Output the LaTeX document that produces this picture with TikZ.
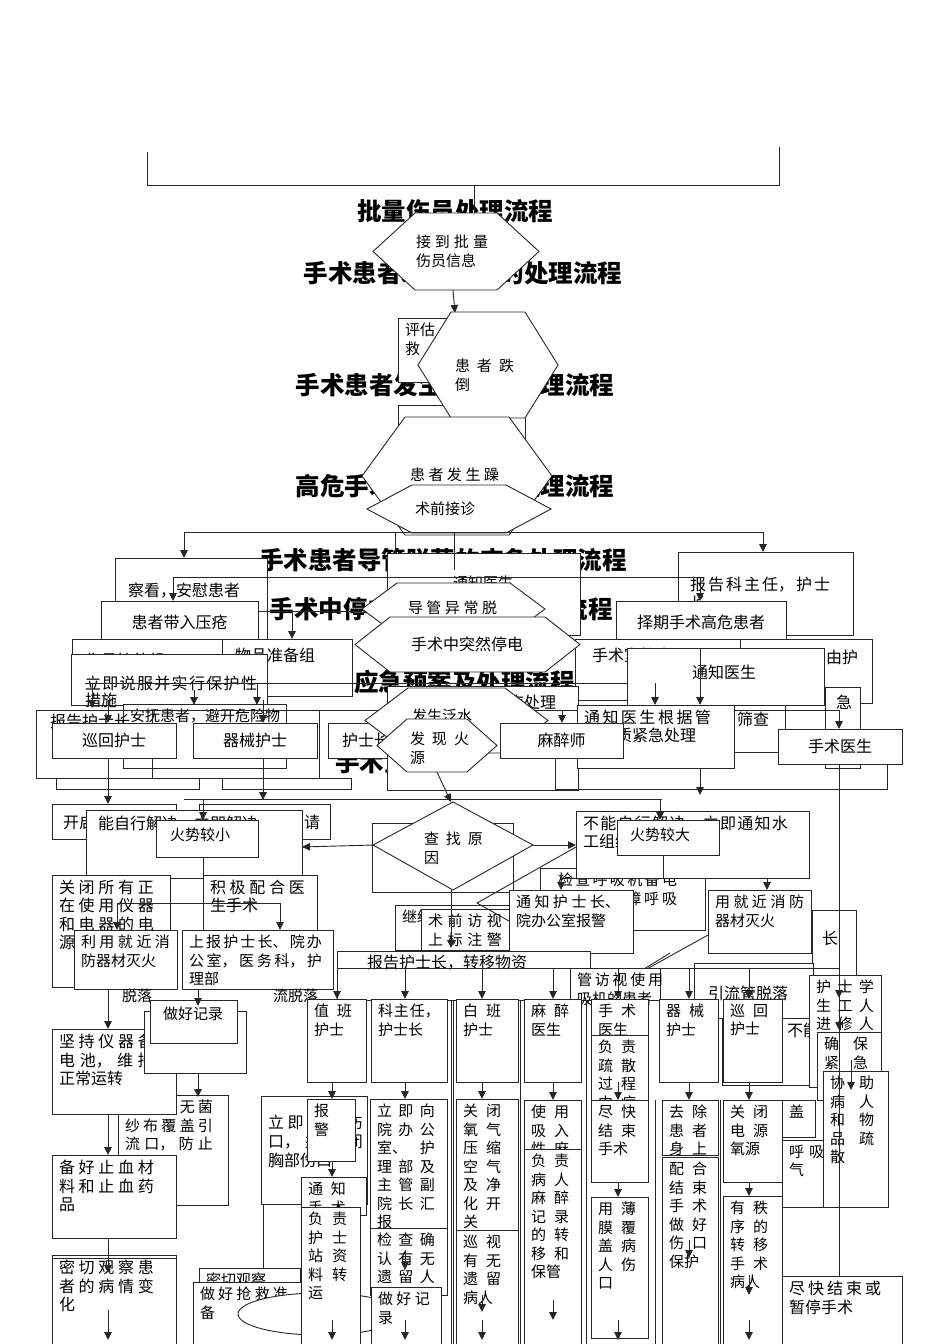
\documentclass[tikz,border=0pt]{standalone}
\usepackage{fontspec}
\setmainfont{Noto Sans CJK SC}
\usetikzlibrary{arrows.meta}
\XeTeXlinebreaklocale "zh"
\XeTeXlinebreakskip=0pt plus 40pt
\tikzset{
 bx/.style={draw=black!85, fill=white, line width=0.9pt, inner sep=0pt, outer sep=0pt},
 tx/.style={inner sep=0pt, outer sep=0pt, font=\fontsize{15}{18.5}\selectfont, align=justify, execute at begin node={\tolerance=10000\hbadness=10000\relax}},
 tw5/.style={font=\fontsize{16}{18.5}\selectfont, text width=95pt},
 lb/.style={inner sep=0pt, font=\fontsize{16}{19}\selectfont},
 ttl/.style={inner sep=0pt, font=\fontsize{24.5}{28}\selectfont\bfseries},
 ln/.style={line width=0.9pt, draw=black!85},
 ar/.style={ln, -{Triangle[width=7.5pt,length=8pt]}},
}
\newcommand\bx[7][]{%
 \pgfmathsetmacro\bxw{#5-#3}\pgfmathsetmacro\bxh{#6-#4}\pgfmathsetmacro\bxt{#5-#3-14}%
 \node[bx, minimum width=\bxw pt, minimum height=\bxh pt, anchor=north west] (#2) at (#3,#4) {};%
 \node[tx, text width=\bxt pt, anchor=north west, #1] (#2t) at (#3+7,#4+5) {#7};}
\newcommand\cb[6]{%
 \pgfmathsetmacro\bxw{#4-#2}\pgfmathsetmacro\bxh{#5-#3}%
 \node[bx, lb, minimum width=\bxw pt, minimum height=\bxh pt, anchor=north west] (#1) at (#2,#3) {#6};}
\newcommand\hx[6]{%
 \pgfmathsetmacro\hxm{(#4+#5)/2}%
 \filldraw[ln, fill=white] (#2,\hxm) -- (#2+#6,#4) -- (#3-#6,#4) -- (#3,\hxm) -- (#3-#6,#5) -- (#2+#6,#5) -- cycle;%
 \coordinate (#1) at ({(#2+#3)/2},\hxm);}
\begin{document}
\begin{tikzpicture}[x=1pt,y=-1pt]
\useasboundingbox (0,0) rectangle (950,1344);
\fill[white] (0,0) rectangle (950,1344);
% titles
\node[ttl] (t1) at (455,211) {批量伤员处理流程};
\node[ttl] (t2) at (463,273) {手术患者发生跌倒的处理流程};
\node[ttl] (t3) at (455,385) {手术患者发生躁动的处理流程};
\node[ttl] (t4) at (455,486) {高危手术患者的应急处理流程};
\node[ttl] (t5) at (443,560) {手术患者导管脱落的应急处理流程};
\node[ttl] (t6) at (441,609) {手术中停电应急预案及处理流程};
\node[ttl, anchor=east] (t7) at (575,682) {手术室泛水应急预案及处理流程};
\node[ttl, anchor=west] (t8) at (335,762) {手术室火灾处理流程};
% bracket
\coordinate (brL) at (147,152); \coordinate (brR) at (779,147);
\draw[ln] (brL) -- (147,185) -- (779,185) -- (brR);
\draw[ln] (474,185) -- (474,214);
% upper hexagons
\bx[text width=30pt]{b1}{398}{318}{520}{382}{评估\\救}
\hx{h1}{373}{539}{213}{290}{42}
\node[tx, text width=72pt, anchor=north west] (h1t) at (416,235) {接到批量伤员信息};
\draw[ar] (453,290) -- (455,313);
\bx{b2}{398}{405}{525}{445}{}
\hx{h2}{418}{558}{312}{418}{33}
\node[tx, text width=59pt, anchor=north west] (h2t) at (455,359) {患者跌倒};
\hx{h3}{362}{552}{417}{535}{43}
\node[tx, text width=89pt, anchor=north west] (h3t) at (410,468) {患者发生躁动};
\hx{h4}{367}{551}{485}{533}{45}
\node[tx, anchor=west, align=left] (h4t) at (415,509) {术前接诊};
% boxes around 540-640
\bx{b3}{115}{558}{267}{642}{}
\node[lb, anchor=west] (b3l) at (128,591) {察看，安慰患者};
\bx{b4}{387}{553}{580}{635}{}
\node[tx, anchor=west, align=left] (b4l) at (453,583) {通知医生};
\bx{b5}{678}{552}{853}{635}{}
\node[tx, font=\fontsize{16}{19}\selectfont, text width=140pt, anchor=north west] (b5l) at (690,577) {报告科主任，护士长};
\draw[ln] (184,532) -- (763,532);
\draw[ar] (184,532) -- (b3.north -| 184,558);
\draw[ar] (763,532) -- (763,552);
\draw[ln] (395,533) -- (395,553);
\draw[ln] (454,533) -- (454,570);
\draw[ln] (173,577) -- (700,577);
\draw[ar] (173,577) -- (173,601);
\draw[ar] (700,577) -- (700,601);
\cb{f5}{101}{601}{258}{643}{患者带入压疮}
\cb{f6}{616}{601}{786}{643}{择期手术高危患者}
\draw[ln] (258,611) -- (362,611);
\draw[ar] (292,611) -- (292,639);
\bx{b6}{72}{639}{222}{700}{}
\node[lb, anchor=west] (b6l) at (85,660) {伤员接待组};
\bx{b7}{222}{639}{352}{696}{}
\node[lb, anchor=west] (b7l) at (235,655) {物品准备组};
\bx{b8}{575}{639}{790}{700}{}
\node[lb, anchor=west] (b8l) at (592,655) {手术室护士};
\bx{b9}{740}{639}{872}{703}{}
\node[lb, anchor=west] (b9l) at (826,657) {由护};
\bx{b11}{71}{654}{267}{705}{}
\hx{h5}{362}{545}{583}{635}{35}
\node[tx, text width=89pt, anchor=north west] (h5t) at (408,601) {导管异常脱落};
\hx{h6}{355}{580}{617}{672}{35}
\node[lb] (h6t) at (467,644) {手术中突然停电};
% 立即说服
\node[tx, font=\fontsize{16}{17}\selectfont, text width=172pt, anchor=north west] (b11l) at (85,676) {立即说服并实行保护性措施};
\draw[ln] (85,683) -- (660,683);
\draw[ar] (92,683) -- (92,708);
\draw[ar] (257,683) -- (257,705);
\draw[ar] (194,690) -- (194,705);
\bx[text width=150pt]{b14}{123}{704}{286}{768}{安抚患者，避开危险物品活动}
\draw[ln] (36,710) rectangle (319,778);
\draw[ln] (36,710) rectangle (152,778);
\node[lb, anchor=west] (b12l) at (50,721) {报告护士长};
\draw[ar] (108,700) -- (108,723);
\draw[ar] (263,700) -- (263,723);
\cb{f10a}{52}{723}{176}{758}{巡回护士}
\cb{f10b}{193}{723}{317}{758}{器械护士}
\bx{f10c}{328}{723}{415}{758}{}
\node[lb, anchor=west] (f10cl) at (342,740) {护士长};
% middle right
\bx{b16}{387}{686}{578}{790}{}
\node[lb, anchor=west] (b16l) at (508,702) {应处理};
\bx{b18}{627}{648}{824}{705}{}
\node[lb, anchor=west] (b18l) at (692,672) {通知医生};
\draw[ar] (700,648) -- (700,705);
\draw[ar] (655,683) -- (655,705);
\bx{b10}{825}{687}{860}{768}{}
\node[lb, anchor=west] (b10l) at (836,702) {急};
\bx{b17}{700}{705}{785}{752}{}
\node[lb, anchor=west] (b17l) at (737,719) {筛查};
\draw[ln] (319,710) -- (839,710);
\bx[font=\fontsize{16}{18}\selectfont, text width=127pt]{f14}{577}{705}{734}{768}{通知医生根据管道性质紧急处理}
\hx{h7}{365}{548}{688}{753}{43}
\node[tx, anchor=west, align=left] (h7t) at (412,716) {发生泛水};
\cb{f12}{500}{723}{623}{758}{麻醉师}
\cb{f15}{778}{729}{902}{764}{手术医生}
\draw[ar] (839,710) -- (f15.north -| 839,729);
\draw[ar] (562,710) -- (562,723);
\hx{h8}{377}{497}{719}{772}{30}
\node[tx, text width=59pt, anchor=north west] (h8t) at (410,732) {发现火源};
\draw[ar] (700,768) -- (700,795);
% lines around 780-800
\draw[ln] (56,778) rectangle (199,789);
\draw[ln] (222,778) rectangle (351,789);
\draw[ln] (555,758) -- (555,789) -- (887,789) -- (887,764);
\draw[ln] (184,799) -- (662,799);
\draw[ar] (108,758) -- (108,804);
\draw[ar] (263,758) -- (263,800);
% fire area left
\bx{b19}{52}{804}{176}{839}{}
\node[lb, anchor=west] (b19l) at (63,822) {开启};
\bx{b20}{199}{804}{330}{839}{}
\node[lb, anchor=west] (b20l) at (304,822) {请};
\bx{f16}{86}{810}{302}{878}{}
\node[lb, anchor=north west] (f16l) at (98,816) {能自行解决，立即解决};
\draw[ar] (203,799) -- (203,820);
\bx{f17}{156}{820}{258}{857}{}
\node[tx, anchor=west, align=left] (f17l) at (170,835) {火势较小};
\bx{b21}{372}{823}{513}{892}{}
\draw[ar] (h8 |- 0,772) -- (451,802);
\filldraw[ln, fill=white] (373,845) -- (453,802) -- (533,845) -- (453,890) -- cycle;
\coordinate (dm) at (453,845);
\node[tx, text width=59pt, anchor=north west] (dmt) at (424,832) {查找原因};
\draw[ar] (373,845) -- (f16.east |- 0,847);
% right of diamond
\bx{b22}{540}{868}{705}{930}{}
\node[tx, text width=119pt, anchor=north west] (b22l) at (558,873) {检查呼吸机备电源，以保障呼吸机正常运转};
\bx[font=\fontsize{16}{18}\selectfont, text width=205pt]{f19}{576}{811}{809}{878}{不能自行解决，立即通知水工组维修}
\draw[ar] (533,845) -- (f19.west |- 0,845);
\draw[ar] (660,799) -- (660,820);
\bx{f20}{617}{820}{719}{855}{}
\node[tx, anchor=west, align=left] (f20l) at (630,835) {火势较大};
% left middle
\bx[tw5]{b23}{52}{875}{170}{987}{关闭所有正在使用仪器和电器的电源}
\bx[tw5]{b24}{203}{875}{317}{935}{积极配合医生手术}
\draw[ln] (203,857) -- (203,903);
\draw[ln] (117,903) -- (280,903);
\draw[ar] (117,903) -- (117,930);
\draw[ar] (280,903) -- (280,930);
\bx{b25}{395}{905}{510}{950}{继续}
\bx[text width=74pt]{b26}{421}{909}{510}{950}{术前访视上标注警示}
\draw[ar] (451,890) -- (451,948);
\draw[ln] (576,847) -- (477,903) -- (509,921);
\bx[text width=89pt]{f21}{74}{930}{177}{989}{利用就近消防器材灭火}
\bx[text width=133pt]{f22}{182}{930}{333}{989}{上报护士长、院办公室，医务科，护理部}
\node[tx, anchor=north west, align=left] (tx1) at (122,989) {脱落};
\node[tx, anchor=north west, align=left] (tx2) at (273,989) {流脱落};
\draw[ln] (663,855) -- (663,878);
\draw[ln] (561,878) -- (767,878);
\bx[text width=104pt]{f25}{509}{890}{633}{953}{通知护士长、院办公室报警}
\bx[text width=89pt]{f26}{708}{890}{811}{953}{用就近消防器材灭火}
\draw[ar] (561,878) -- (f25.north -| 561,890);
\draw[ar] (767,878) -- (f26.north -| 767,890);
\draw[ln] (570,958) -- (618,985) -- (708,935);
\draw[ln] (618,985) -- (670,953);
\bx{b31}{812}{910}{856}{975}{}
\node[lb, anchor=west] (b31l) at (822,938) {长};
% left lower
\bx[text width=88pt]{b33}{118}{1095}{228}{1205}{立即用无菌纱布覆盖引流口，防止感染}
\bx[tw5]{f24}{52}{1029}{176}{1114}{坚持仪器备电池，维持正常运转}
\draw[ar] (108,989) -- (f24.north -| 108,1029);
\bx{f23b}{144}{1011}{246}{1073}{}
\cb{f23}{150}{1000}{237}{1043}{}
\node[tx, anchor=west, align=left] (f23l) at (163,1014) {做好记录};
\draw[ar] (198,989) -- (198,1006);
\draw[ar] (198,1073) -- (198,1097);
\bx[tw5]{f32a}{52}{1155}{176}{1238}{备好止血材料和止血药品}
\draw[ar] (108,1114) -- (f32a.north -| 108,1155);
\bx[tw5]{f32b}{52}{1255}{176}{1344}{密切观察患者的病情变化}
\draw[ln] (52,1258) -- (176,1258);
\draw[ar] (108,1238) -- (108,1273);
\draw[ar] (108,1310) -- (108,1340);
\bx[font=\fontsize{16}{19}\selectfont, text width=95pt, yshift=-14pt]{b34}{261}{1096}{367}{1204}{立即包扎伤口，并封闭胸部伤口}
\draw[ar] (263,1204) -- (263,1340);
\bx{b37}{199}{1268}{300}{1344}{密切观察}
\bx[text width=88pt]{b38}{193}{1282}{302}{1344}{做好抢救准备}
\draw[ln, fill=white] (320,1314) ellipse [x radius=82pt, y radius=21pt];
% batch flowchart
\bx[font=\fontsize{16}{19}\selectfont]{b27}{337}{951}{590}{1000}{}
\node[lb, anchor=west] (b27l) at (367,963) {报告护士长，转移物资};
\bx[text width=86pt]{b28}{570}{968}{660}{1000}{管访视使用吸机的患者}
\bx{b29}{694}{963}{813}{1018}{}
\node[lb, anchor=west] (b29l) at (708,993) {引流管脱落};
\bx{b30}{722}{1018}{809}{1085}{}
\node[lb, anchor=west] (b30l) at (787,1030) {不能};
\draw[ln] (337,968) -- (840,968);
\foreach \xx in {451,453,520,586} \draw[ln] (\xx,1000) -- (\xx,1344);
\foreach \xx in {655,720} \draw[ln] (\xx,1100) -- (\xx,1344);
\bx[text width=38pt]{c1}{307}{999}{366}{1082}{值班护士}
\bx[text width=62pt]{c2}{371}{999}{447}{1082}{科主任，护士长}
\bx[text width=38pt]{c3}{456}{999}{518}{1082}{白班护士}
\bx[text width=38pt]{c4}{524}{999}{581}{1082}{麻醉医生}
\bx[text width=38pt]{c5}{591}{999}{648}{1035}{手术医生}
\bx[text width=38pt]{c5b}{591}{1035}{648}{1105}{负责疏散过程中病人}
\bx[text width=38pt]{c6}{659}{999}{718}{1082}{器械护士}
\bx[text width=38pt]{c7}{723}{999}{782}{1082}{巡回护士}
\foreach \xx/\nn in {337/c1,405/c2,482/c3,553/c4,618/c5,689/c6,749/c7} \draw[ar] (\xx,968) -- (\nn.north -| \xx,999);
\bx[text width=58pt]{c8}{809}{975}{881}{1087}{护士学生工人进修人员}
\bx[text width=44pt]{c9}{817}{1032}{881}{1100}{确保紧急通道通畅}
\bx[text width=44pt]{c10}{823}{1071}{888}{1207}{协助病人和物品疏散}
\draw[ar] (839,764) -- (839,1340);
\draw[ar] (839,968) -- (839,998);
\draw[ar] (839,1012) -- (839,1030);
\draw[ar] (851,1060) -- (851,1090);
% lower row
\bx[text width=20pt]{d1}{307}{1099}{355}{1161}{报警}
\bx[text width=38pt]{d1b}{301}{1177}{366}{1215}{通知手术医生}
\bx[text width=39pt]{d1c}{301}{1207}{360}{1344}{负责护士站资料转运}
\bx[text width=58pt]{d2}{370}{1099}{447}{1228}{立即向院办公室、护理部及主管副院长汇报}
\bx[text width=58pt]{d2b}{370}{1228}{447}{1295}{检查确认有无遗留人员}
\bx[text width=52pt]{d2c}{371}{1287}{441}{1344}{做好记录}
\bx[text width=38pt]{d3}{456}{1099}{518}{1230}{关闭氧气压缩空气及净化开关}
\bx[text width=38pt]{d3b}{456}{1230}{518}{1344}{巡视有无遗留病人}
\bx[text width=38pt]{d4}{524}{1100}{581}{1150}{使用吸入性麻醉}
\bx[text width=38pt]{d4b}{524}{1149}{581}{1344}{负责病人麻醉记录的转移和保管}
\bx[text width=38pt]{d5}{591}{1100}{648}{1182}{尽快结束手术}
\bx[text width=38pt]{d5b}{591}{1197}{648}{1338}{用薄膜覆盖病人伤口}
\bx[text width=38pt]{d6}{662}{1100}{718}{1155}{去除患者身上金属}
\bx[text width=38pt]{d6b}{662}{1157}{718}{1344}{配合结束手术做好伤口保护}
\bx[text width=38pt]{d7}{723}{1100}{782}{1182}{关闭电源氧源}
\bx[text width=38pt]{d7b}{723}{1196}{782}{1344}{有秩序的转移手术病人}
\bx{e1}{782}{1100}{815}{1137}{盖}
\bx[text width=35pt]{e2}{782}{1140}{823}{1207}{呼吸气}
\bx[font=\fontsize{16}{19}\selectfont, text width=92pt]{e3}{782}{1276}{902}{1344}{尽快结束或暂停手术}
\foreach \xx/\nn in {332/d1,405/d2,482/d3,553/d4,618/d5,689/d6,749/d7} \draw[ar] (\xx,1082) -- (\nn.north -| \xx,1099);
\draw[ar] (332,1161) -- (d1b.north -| 332,1177);
\draw[ar] (618,1182) -- (d5b.north -| 618,1197);
\draw[ar] (749,1182) -- (d7b.north -| 749,1196);
\draw[ar] (405,1250) -- (405,1270);
\draw[ar] (689,1240) -- (689,1258);
\draw[ar] (749,1275) -- (749,1295);
\draw[ar] (553,1300) -- (553,1320);
\draw[ar] (482,1295) -- (482,1312);
\foreach \xx in {332,405,482,618,749} \draw[ar] (\xx,1320) -- (\xx,1340);
\end{tikzpicture}
\end{document}
